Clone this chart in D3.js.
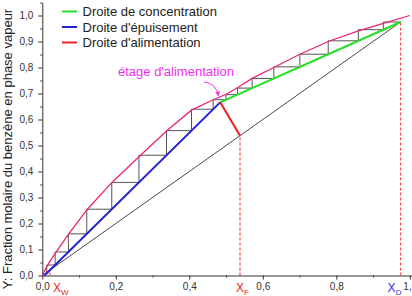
<!DOCTYPE html>
<html>
<head>
<meta charset="utf-8">
<script src="https://cdn.jsdelivr.net/npm/d3@7"></script>
<style>
  body { margin: 0; background: #fff; }
  svg { display: block; font-family: "Liberation Sans", Arial, sans-serif; }
</style>
</head>
<body>
<div id="chart"></div>
<script>
(function() {
  var width = 412, height = 296;

  // equilibrium curve (x liquide, y vapeur)
  var eqX = [0, 0.012, 0.035, 0.071, 0.121, 0.189, 0.263, 0.338, 0.406, 0.465, 0.500, 0.531, 0.571, 0.630, 0.701, 0.778, 0.860, 0.928, 1.0];
  var eqY = [0, 0.034, 0.085, 0.158, 0.252, 0.357, 0.457, 0.556, 0.636, 0.676, 0.697, 0.722, 0.758, 0.800, 0.851, 0.900, 0.941, 0.970, 1.0];

  var xW = 0.021, xF = 0.538, xD = 0.975;
  // operating lines
  var strippingLine = [[0.006, 0], [0.484, 0.666]];
  var rectifyingLine = [[0.484, 0.666], [0.975, 0.975]];
  var feedLine = [[0.538, 0.538], [0.484, 0.666]];

  // x of each stage, from the top
  var stageX = [0.928, 0.860, 0.778, 0.701, 0.630, 0.571, 0.531, 0.500, 0.465, 0.406, 0.338, 0.263, 0.189, 0.121, 0.071, 0.035, 0.012];

  var legendNames = ["Droite de concentration", "Droite d'épuisement", "Droite d'alimentation"];
  var legendColors = ["#22e022", "#2222d4", "#ee2222"];

  var yTicks = [0, 0.1, 0.2, 0.3, 0.4, 0.5, 0.6, 0.7, 0.8, 0.9, 1.0];
  var xTicks = [0, 0.2, 0.4, 0.6, 0.8, 1.0];

  var svg = d3.select("#chart").append("svg")
    .attr("width", width)
    .attr("height", height);

  var x = d3.scaleLinear().domain([0, 1.05]).range([42.3, 42.3 + 367.5 * 1.05]);
  var y = d3.scaleLinear().domain([0, 1.05]).range([275.5, 275.5 - 260 * 1.05]);
  var fmt = function(d) { return d3.format(".1f")(d).replace(".", ","); };

  function op(v) {
    var seg = v < rectifyingLine[0][0] ? strippingLine : rectifyingLine;
    var t = (v - seg[0][0]) / (seg[1][0] - seg[0][0]);
    return Math.max(0, seg[0][1] + t * (seg[1][1] - seg[0][1]));
  }

  // minor ticks
  svg.append("g")
    .attr("transform", "translate(0," + y(0) + ")")
    .call(d3.axisBottom(x).tickValues(d3.range(0.1, 1.05, 0.2)).tickSize(2).tickFormat("").tickSizeOuter(0))
    .call(function(g) { g.select(".domain").remove(); });
  svg.append("g")
    .attr("transform", "translate(" + x(0) + ",0)")
    .call(d3.axisLeft(y).tickValues(d3.range(0.05, 1.06, 0.1)).tickSize(2).tickFormat("").tickSizeOuter(0))
    .call(function(g) { g.select(".domain").remove(); });

  svg.append("g")
    .attr("transform", "translate(0," + y(0) + ")")
    .call(d3.axisBottom(x).tickValues(xTicks).tickSize(4).tickSizeOuter(0).tickFormat(fmt).tickPadding(3));
  svg.append("g")
    .attr("transform", "translate(" + x(0) + ",0)")
    .call(d3.axisLeft(y).tickValues(yTicks).tickSize(4).tickSizeOuter(0).tickFormat(fmt).tickPadding(5));
  svg.selectAll(".tick text").attr("font-size", 10).attr("fill", "#333").attr("font-family", null);
  svg.selectAll(".domain, .tick line").attr("stroke", "#333");

  svg.append("text")
    .attr("transform", "translate(12,149) rotate(-90)")
    .attr("text-anchor", "middle")
    .attr("font-size", 13)
    .attr("fill", "#222")
    .text("Y: Fraction molaire du benzène en phase vapeur");

  var line = d3.line().x(function(d) { return x(d[0]); }).y(function(d) { return y(d[1]); });

  // diagonal
  svg.append("path").attr("d", line([[0, 0], [xD, xD]]))
    .attr("fill", "none").attr("stroke", "#333").attr("stroke-width", 0.9);

  // dashed markers
  [[xW, xW], [xF, xF], [xD, xD]].forEach(function(p) {
    svg.append("path").attr("d", line([[p[0], 0], p]))
      .attr("fill", "none").attr("stroke", "#f05050").attr("stroke-width", 1.2)
      .attr("stroke-dasharray", "3,2");
  });

  // staircase
  var stairs = [[xD, xD]], level = xD;
  stageX.forEach(function(v) {
    stairs.push([v, level]);
    level = op(v);
    stairs.push([v, level]);
  });
  svg.append("path").attr("d", line(stairs))
    .attr("fill", "none").attr("stroke", "#555").attr("stroke-width", 1);

  // equilibrium curve
  svg.append("path").attr("d", line(eqX.map(function(v, i) { return [v, eqY[i]]; })))
    .attr("fill", "none").attr("stroke", "#e8247c").attr("stroke-width", 1.3);

  svg.append("path").attr("d", line(rectifyingLine))
    .attr("fill", "none").attr("stroke", legendColors[0]).attr("stroke-width", 2);
  svg.append("path").attr("d", line(strippingLine))
    .attr("fill", "none").attr("stroke", legendColors[1]).attr("stroke-width", 2);
  svg.append("path").attr("d", line(feedLine))
    .attr("fill", "none").attr("stroke", legendColors[2]).attr("stroke-width", 2);

  // legend
  var legend = svg.append("g");
  legendNames.forEach(function(name, i) {
    var ly = 11.5 + i * 15.5;
    legend.append("line").attr("x1", 62).attr("x2", 77).attr("y1", ly).attr("y2", ly)
      .attr("stroke", legendColors[i]).attr("stroke-width", 2);
    legend.append("text").attr("x", 82.5).attr("y", ly + 4.5)
      .attr("font-size", 13).attr("fill", "#222").text(name);
  });

  // annotation
  svg.append("defs").append("marker")
    .attr("id", "arrow").attr("viewBox", "0 0 10 10")
    .attr("refX", 9).attr("refY", 5)
    .attr("markerWidth", 5).attr("markerHeight", 5)
    .attr("orient", "auto")
    .append("path").attr("d", "M0,0L10,5L0,10z").attr("fill", "#f030f0");

  svg.append("text").attr("x", 118).attr("y", 76)
    .attr("font-size", 13).attr("fill", "#f030f0").text("étage d'alimentation");
  svg.append("path")
    .attr("d", "M204,82 Q216,83 218.5,96")
    .attr("fill", "none").attr("stroke", "#f030f0").attr("stroke-width", 1)
    .attr("marker-end", "url(#arrow)");

  // composition labels
  function compLabel(v, sub, color, dx) {
    var t = svg.append("text").attr("x", x(v) + dx).attr("y", 292)
      .attr("font-size", 12).attr("fill", color);
    t.append("tspan").text("X");
    t.append("tspan").attr("font-size", 8).attr("dy", 2.5).text(sub);
  }
  compLabel(xW, "W", "#ee2222", 3);
  compLabel(xF, "F", "#ee2222", -4);
  compLabel(xD, "D", "#3333cc", -13);
})();
</script>
</body>
</html>
